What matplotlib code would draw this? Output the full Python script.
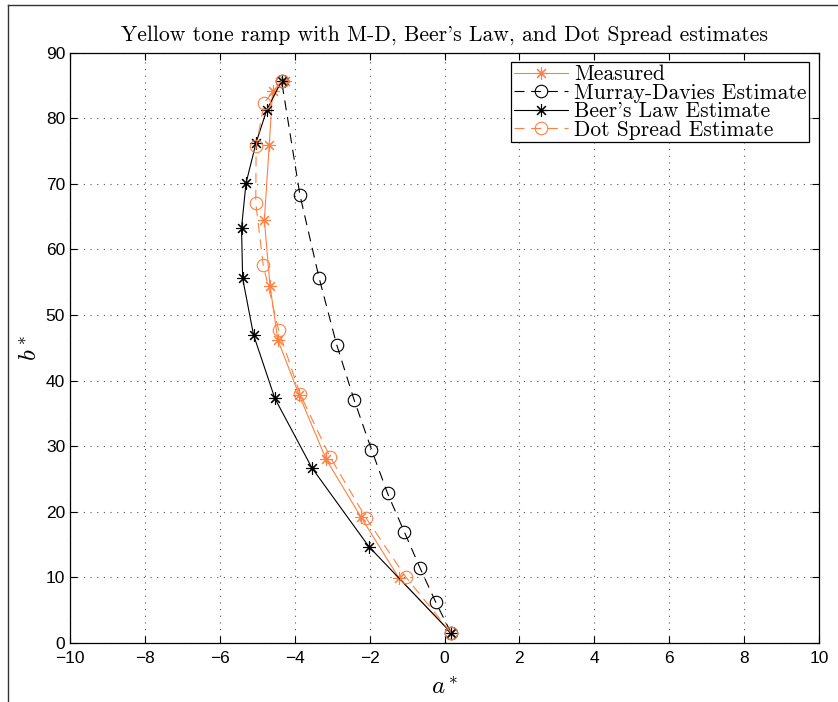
import matplotlib
matplotlib.use("Agg")
import matplotlib.pyplot as plt
from matplotlib.lines import Line2D

# CIELAB a*/b* for the yellow tone ramp, 0% -> 100% coverage
meas_a = [0.17, -1.21, -2.23, -3.16, -3.88, -4.45, -4.66, -4.81, -4.68, -4.59, -4.26]
meas_b = [1.6, 9.85, 19.2, 28.0, 37.8, 46.2, 54.5, 64.5, 75.9, 84.2, 85.7]

md_a = [0.17, -0.24, -0.65, -1.07, -1.52, -1.95, -2.41, -2.88, -3.35, -3.86, -4.35]
md_b = [1.6, 6.3, 11.4, 16.9, 22.8, 29.5, 37.0, 45.5, 55.7, 68.3, 85.7]

beer_a = [0.17, -2.02, -3.54, -4.53, -5.10, -5.39, -5.42, -5.30, -5.03, -4.75, -4.35]
beer_b = [1.6, 14.7, 26.7, 37.3, 47.0, 55.6, 63.3, 70.1, 76.3, 81.2, 85.7]

dot_a = [0.17, -1.04, -2.10, -3.06, -3.86, -4.43, -4.84, -5.04, -5.03, -4.81, -4.35]
dot_b = [1.6, 10.1, 19.1, 28.4, 38.0, 47.7, 57.6, 67.1, 75.7, 82.4, 85.7]

xticks = list(range(-10, 11, 2))
yticks = list(range(0, 91, 10))

orange = "#ff8040"
star = (8, 2, 0)
serif = ["cmr10", "DejaVu Serif"]

plt.rcParams["mathtext.fontset"] = "cm"
plt.rcParams["font.family"] = ["Liberation Sans", "DejaVu Sans"]

fig = plt.figure(figsize=(8.38, 7.02), dpi=100)
ax = fig.add_axes([70 / 838, 59 / 702, 749 / 838, 590.3 / 702])

ax.plot(meas_a, meas_b, color=orange, lw=0.8, marker=star, ms=9, mew=0.8,
        label="Measured")
ax.plot(md_a, md_b, color="black", lw=0.8, ls=(0, (9, 6)), marker="o", ms=9,
        mfc="none", mew=0.8, label="Murray-Davies Estimate")
ax.plot(beer_a, beer_b, color="black", lw=0.8, marker=star, ms=9, mew=0.8,
        label="Beer's Law Estimate")
ax.plot(dot_a, dot_b, color=orange, lw=0.8, ls=(0, (9, 6)), marker="o", ms=9,
        mfc="none", mew=0.8, label="Dot Spread Estimate")

ax.set_xlim(-10, 10)
ax.set_ylim(0, 90)
ax.set_xticks(xticks)
ax.set_yticks(yticks)
ax.set_xticklabels(["\u2212%d" % -t if t < 0 else "%d" % t for t in xticks])
ax.tick_params(direction="in", top=True, right=True, labelsize=12.5, length=5,
               width=0.8)
ax.tick_params(axis="x", pad=6)
ax.grid(True, ls=(0, (1, 5)), color="#555555", lw=0.8)
for s in ax.spines.values():
    s.set_linewidth(0.9)

ax.set_title("Yellow tone ramp with M-D, Beer's Law, and Dot Spread estimates",
             family=serif, fontsize=15.6, pad=9)
ax.set_xlabel(r"$a^*$", fontsize=18, labelpad=6)
ax.set_ylabel(r"$b^*$", fontsize=18, labelpad=3)

leg = ax.legend(loc="upper right", prop={"family": serif, "size": 15.5},
                fancybox=False, framealpha=1, edgecolor="black",
                labelspacing=-0.05, handlelength=2.5, handletextpad=0.3,
                borderpad=0.12, borderaxespad=0.45)
leg.get_frame().set_linewidth(0.9)

# outer border of the figure (left and top edges)
fig.add_artist(Line2D([8 / 838, 8 / 838], [0, 1 - 5 / 702],
                      transform=fig.transFigure, color="#333333", lw=1))
fig.add_artist(Line2D([8 / 838, 1], [1 - 5 / 702, 1 - 5 / 702],
                      transform=fig.transFigure, color="#333333", lw=1))

fig.savefig("out.png", dpi=100)
